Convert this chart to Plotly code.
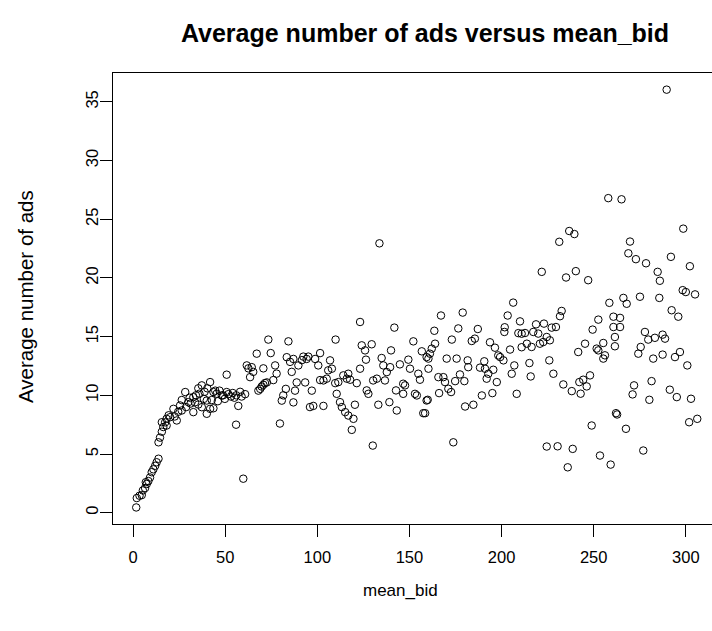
import plotly.graph_objects as go

# mean_bid (x) and average number of ads (y) for each observation
mean_bid = [
    1.7, 2.0, 3.5, 4.7, 5.3, 6.5, 7.4, 6.9, 8.3, 9.2, 10.1, 11.0, 12.0, 12.8, 13.8, 13.8, 14.6, 15.6, 16.4, 17.4, 18.2,
    15.6, 18.2, 19.3, 20.1, 21.9, 22.6, 23.7, 24.5, 25.5, 26.4, 26.4, 28.3, 28.8, 30.0, 30.7, 31.2, 32.7, 32.7, 33.6, 34.1,
    35.4, 35.4, 36.0, 37.3, 37.3, 38.4, 38.8, 40.0, 40.0, 40.3, 41.8, 41.8, 42.7, 43.6, 43.6, 45.4, 46.0, 46.9, 48.2,
    48.8, 49.8, 50.8, 50.8,
    44.6, 51.7, 53.1, 54.1, 55.0, 56.0, 57.1, 58.1, 58.9, 60.8, 55.9, 59.8, 61.7, 62.6, 64.4, 63.5, 65.2, 67.1, 68.0, 69.0, 69.8,
    70.7, 71.6, 72.6, 70.7, 73.4, 74.7, 77.1, 77.9, 76.1, 79.7, 80.7, 81.5, 82.9, 84.3, 83.4, 85.2, 87.0, 86.1,
    87.0, 87.9, 88.8, 93.4, 89.7, 91.6, 92.4, 94.2, 95.1, 97.0, 96.0, 97.8, 98.8, 100.5, 101.5, 101.5, 103.3,
    133.7, 123.2, 141.8, 109.9, 152.1, 124.1, 129.5, 125.9, 140.0, 156.7, 159.3, 106.9, 107.9, 105.9, 126.4,
    123.2, 134.9, 135.8, 139.5, 144.8, 149.4, 150.3, 154.8, 155.7, 137.7, 136.7, 103.3, 105.1, 109.7, 111.4,
    114.1, 116.8, 116.0, 117.8, 121.4, 110.5, 112.3, 113.3, 115.1, 116.8, 119.6, 118.7, 120.4, 126.8, 127.7, 130.3,
    132.3, 133.1, 139.1, 143.1, 142.7, 146.6, 147.6, 146.6, 153.0, 154.0, 157.5, 159.3, 130.1,
    173.8, 206.3, 167.1, 178.9, 203.3, 163.5, 176.5, 187.1, 201.7, 210.0, 201.5, 173.0, 183.8, 185.5, 193.7,
    209.1, 210.9, 163.9, 162.1, 161.1, 160.3, 196.4, 198.2, 199.2, 201.0, 204.6, 210.9, 170.2, 175.6, 181.6,
    181.9, 190.6, 188.3, 191.0, 195.5, 192.8, 191.9, 197.4, 160.3, 206.9, 205.5, 165.7, 168.4, 169.3, 171.1,
    172.6, 166.1, 177.4, 174.8, 179.8, 189.3, 195.0, 180.2, 184.7, 208.2, 159.9, 158.5,
    257.9, 236.7, 239.5, 231.3, 221.8, 235.0, 240.3, 247.0, 258.5, 232.6, 231.7, 218.7, 223.0, 227.2, 229.5,
    212.7, 217.2, 219.9, 224.5, 222.6, 220.8, 216.3, 213.7, 226.2, 252.5, 249.4, 260.7, 264.3, 245.3, 255.2,
    251.6, 252.5, 256.1, 255.2, 261.5, 241.6, 215.1, 225.9, 215.8, 228.1, 233.5, 238.1, 242.9, 244.3, 248.0,
    246.2, 242.2, 262.1, 262.7, 248.9, 224.5, 230.4, 238.6, 253.4, 259.2, 235.9,
    289.6, 265.1, 298.6, 269.7, 268.8, 272.9, 278.4, 284.7, 285.9, 291.9, 302.2, 266.1, 267.9, 275.1, 285.6,
    298.3, 300.0, 305.0, 292.3, 295.9, 260.7, 264.3, 261.5, 277.8, 279.6, 283.2, 287.4, 288.7, 275.5, 274.2,
    282.3, 287.4, 294.1, 296.8, 300.8, 271.9, 271.1, 281.4, 280.2, 291.3, 295.1, 302.8, 267.5, 301.8, 306.2,
    276.9,
]

avg_ads = [
    0.45, 1.25, 1.45, 1.5, 1.9, 2.1, 2.45, 2.6, 2.7, 3.0, 3.45, 3.7, 4.0, 4.3, 4.6, 6.0, 6.4, 6.9, 7.3, 7.7, 8.0,
    7.71, 7.43, 8.3, 8.14, 8.85, 8.2, 7.86, 8.6, 9.14, 8.71, 9.6, 10.28, 9.0, 9.42, 9.8, 9.3, 8.57, 9.85, 9.4, 10.0,
    9.22, 10.6, 10.14, 8.99, 10.85, 9.7, 10.3, 8.43, 9.56, 10.6, 8.85, 11.13, 9.6, 10.28, 8.9, 10.14, 9.5, 10.4, 9.99,
    10.0, 9.7, 10.28, 11.76,
    10.4, 10.1, 9.9, 10.2, 9.8, 10.0, 9.1, 10.3, 9.9, 10.1, 7.5, 2.9, 12.55, 12.3, 12.4, 11.55, 12.0, 13.55, 10.4, 10.55, 10.75,
    10.9, 11.05, 11.1, 12.3, 14.75, 13.6, 12.55, 11.85, 11.3, 7.6, 9.55, 10.0, 10.55, 14.6, 13.25, 12.85, 13.1, 12.0,
    9.4, 10.4, 11.1, 11.1, 12.55, 13.0, 13.3, 13.1, 13.3, 10.4, 9.0, 9.1, 13.1, 12.55, 13.6, 11.3, 9.1,
    22.95, 16.25, 15.77, 14.75, 14.6, 14.26, 14.35, 13.83, 13.83, 13.75, 13.26, 12.98, 12.27, 12.13, 13.04,
    12.27, 13.18, 12.55, 12.4, 12.64, 13.04, 12.27, 11.84, 11.33, 11.98, 11.27, 11.27, 11.42, 11.04, 11.13,
    11.7, 11.84, 11.42, 11.33, 11.04, 10.13, 9.42, 9.0, 8.57, 8.28, 8.0, 7.06, 9.2, 10.42, 10.13, 11.27,
    11.42, 9.2, 9.42, 8.71, 10.42, 10.99, 10.85, 10.13, 10.13, 9.99, 8.48, 9.56, 5.72,
    6.0, 17.9, 16.8, 17.05, 16.8, 15.5, 15.7, 15.65, 15.8, 16.3, 15.4, 14.75, 14.63, 14.83, 14.52,
    15.3, 15.25, 14.4, 13.98, 13.55, 13.13, 14.06, 13.4, 13.26, 12.98, 13.9, 14.1, 13.13, 13.13, 12.98,
    12.4, 12.9, 12.36, 12.27, 12.18, 11.84, 11.42, 11.13, 12.27, 12.55, 11.84, 11.55, 11.55, 11.13, 10.56,
    10.28, 10.19, 11.78, 11.21, 11.21, 9.99, 10.19, 9.05, 9.2, 10.13, 9.62, 8.48,
    26.8, 24.0, 23.74, 23.08, 20.52, 20.04, 20.58, 19.81, 17.88, 17.19, 16.74, 16.05, 16.11, 15.77, 15.82,
    15.31, 15.4, 15.26, 14.97, 14.54, 14.4, 14.12, 14.4, 14.69, 16.45, 15.6, 15.82, 15.82, 14.4, 14.46,
    13.98, 13.83, 13.41, 13.13, 14.18, 13.69, 12.75, 12.98, 11.61, 11.84, 10.93, 10.36, 10.14, 11.33, 11.7,
    10.76, 11.13, 8.48, 8.37, 7.43, 5.64, 5.66, 5.44, 4.87, 4.1, 3.87,
    36.04, 26.7, 24.2, 23.1, 22.1, 21.6, 21.25, 20.52, 19.76, 21.8, 21.0, 18.3, 17.8, 18.4, 18.3,
    18.96, 18.8, 18.6, 17.25, 16.7, 16.7, 16.6, 14.97, 15.4, 14.75, 14.9, 15.17, 14.83, 14.12, 13.55,
    13.13, 13.47, 13.26, 13.69, 12.55, 10.85, 10.08, 11.21, 9.62, 10.48, 9.85, 9.71, 7.15, 7.71, 8.0,
    5.3,
]

x_ticks = [0, 50, 100, 150, 200, 250, 300]
y_ticks = [0, 5, 10, 15, 20, 25, 30, 35]

FONT = "Liberation Sans, Arial, sans-serif"

# plot box in pixels (the right side of the box runs past the page edge)
L, T, B, W, H = 113, 73, 524, 712, 631

fig = go.Figure(
    go.Scatter(
        x=mean_bid,
        y=avg_ads,
        mode="markers",
        marker=dict(symbol="circle-open", size=7.5, color="black", line=dict(width=1, color="black")),
        hoverinfo="x+y",
    )
)

fig.update_layout(
    width=W,
    height=H,
    margin=dict(l=L, r=0, t=T, b=H - B),
    paper_bgcolor="white",
    plot_bgcolor="white",
    showlegend=False,
    font=dict(family=FONT, color="black", size=16),
    title=dict(
        text="<b>Average number of ads versus mean_bid</b>",
        font=dict(family=FONT, size=25, color="black"),
        x=425 / W,
        xanchor="center",
        xref="container",
        y=1 - 33 / H,
        yanchor="middle",
        yref="container",
    ),
)

fig.update_xaxes(
    range=[-10.9, 314.2],
    tickvals=x_ticks,
    ticks="outside",
    ticklen=12,
    tickwidth=1,
    tickcolor="black",
    showline=True,
    linecolor="black",
    linewidth=1,
    mirror=True,
    showgrid=False,
    zeroline=False,
    tickfont=dict(size=16.5),
    ticklabelstandoff=6,
)

fig.update_yaxes(
    range=[-0.96, 37.46],
    tickvals=y_ticks,
    ticks="outside",
    ticklen=12,
    tickwidth=1,
    tickcolor="black",
    tickangle=-90,
    showline=True,
    linecolor="black",
    linewidth=1,
    mirror=False,
    showgrid=False,
    zeroline=False,
    tickfont=dict(size=16.5),
    ticklabelstandoff=-5,
)

fig.add_annotation(
    text="mean_bid", xref="paper", yref="paper",
    x=(400 - L) / (W - L), y=-(590 - B) / (B - T),
    xanchor="center", yanchor="middle", showarrow=False,
    font=dict(family=FONT, size=17, color="black"),
)
fig.add_annotation(
    text="Average number of ads", xref="paper", yref="paper",
    x=-(L - 25) / (W - L), y=(B - 297) / (B - T), textangle=-90,
    xanchor="center", yanchor="middle", showarrow=False,
    font=dict(family=FONT, size=20.5, color="black"),
)

fig.write_html("out.html")
